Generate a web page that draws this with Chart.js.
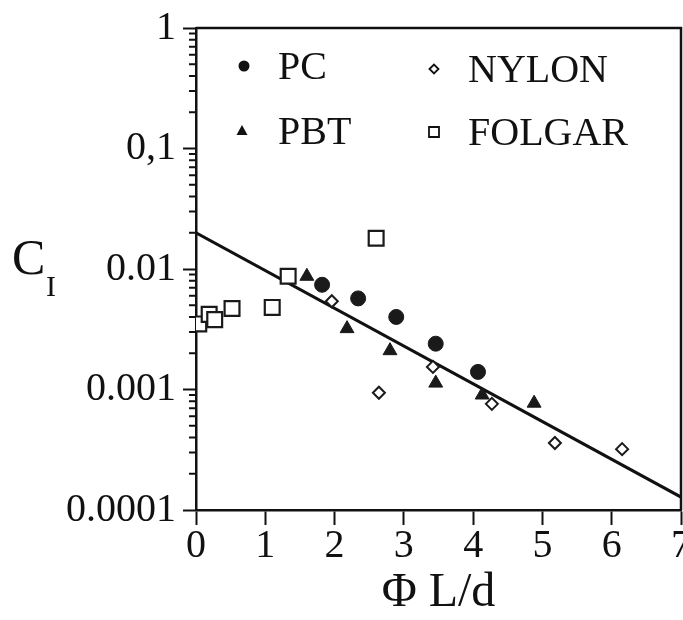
<!DOCTYPE html>
<html>
<head>
<meta charset="utf-8">
<script src="https://cdn.jsdelivr.net/npm/chart.js@4/dist/chart.umd.min.js"></script>
<style>
  html, body { margin: 0; padding: 0; background: #fff; }
  #wrap { width: 683px; height: 620px; }
</style>
</head>
<body>
<div id="wrap"><canvas id="chart" width="683" height="620"></canvas></div>
<script>
// values (x = Phi L/d, y = C_I)
const pcX = [1.82, 2.34, 2.89, 3.46, 4.07];
const pcY = [0.0074, 0.0057, 0.0040, 0.0024, 0.0014];
const pbtX = [1.60, 2.18, 2.80, 3.46, 4.13, 4.88];
const pbtY = [0.0087, 0.0032, 0.0021, 0.00113, 0.0009, 0.00077];
const nylonX = [1.96, 2.64, 3.42, 4.27, 5.18, 6.15];
const nylonY = [0.0054, 0.00094, 0.00154, 0.00076, 0.00036, 0.00032];
const folgarX = [0.04, 0.19, 0.27, 0.52, 1.10, 1.33, 2.60];
const folgarY = [0.0035, 0.0042, 0.0038, 0.0047, 0.0048, 0.0087, 0.018];
const fitX = [0, 7];
const fitY = [0.020, 0.000128];

const yTickValues = [0.0001, 0.001, 0.01, 0.1, 1];
const yTickLabels = ["0.0001", "0.001", "0.01", "0,1", "1"];

const SERIF = "'Liberation Serif', 'DejaVu Serif', serif";

function pts(xs, ys) {
  return xs.map((x, i) => ({ x: x, y: ys[i] }));
}

// box, minor log ticks, C_I title and the in-plot legend
const decor = {
  id: "decor",
  afterDraw(chart) {
    const ctx = chart.ctx;
    const a = chart.chartArea;
    const ys = chart.scales.y;
    ctx.save();
    ctx.strokeStyle = "#111";
    ctx.lineWidth = 2.5;
    ctx.beginPath();
    ctx.moveTo(a.left, a.top);
    ctx.lineTo(a.right, a.top);
    ctx.lineTo(a.right, a.bottom);
    ctx.stroke();

    // minor ticks 2..9 of each decade
    ctx.lineWidth = 2;
    ctx.beginPath();
    for (let d = -4; d < 0; d++) {
      for (let m = 2; m <= 9; m++) {
        const py = ys.getPixelForValue(m * Math.pow(10, d));
        ctx.moveTo(a.left - 7, py);
        ctx.lineTo(a.left, py);
      }
    }
    ctx.stroke();

    // y title: C with subscript I
    ctx.fillStyle = "#111";
    ctx.textBaseline = "alphabetic";
    ctx.textAlign = "left";
    ctx.font = "50px " + SERIF;
    ctx.fillText("C", 12, 274);
    ctx.font = "30px " + SERIF;
    ctx.fillText("I", 46, 296);

    // legend
    ctx.font = "40px " + SERIF;
    ctx.textBaseline = "middle";
    const rows = [
      { shape: "circle", x: 244, y: 66, label: "PC", tx: 278 },
      { shape: "diamond", x: 434, y: 69, label: "NYLON", tx: 468 },
      { shape: "triangle", x: 242, y: 131, label: "PBT", tx: 278 },
      { shape: "square", x: 434, y: 132, label: "FOLGAR", tx: 468 }
    ];
    rows.forEach((r) => {
      ctx.beginPath();
      ctx.lineWidth = 1.8;
      if (r.shape === "circle") {
        ctx.arc(r.x, r.y, 5.5, 0, Math.PI * 2);
        ctx.fill();
      } else if (r.shape === "triangle") {
        ctx.moveTo(r.x, r.y - 6);
        ctx.lineTo(r.x + 5.5, r.y + 4);
        ctx.lineTo(r.x - 5.5, r.y + 4);
        ctx.closePath();
        ctx.fill();
      } else if (r.shape === "diamond") {
        ctx.moveTo(r.x - 4.5, r.y);
        ctx.lineTo(r.x, r.y - 4.5);
        ctx.lineTo(r.x + 4.5, r.y);
        ctx.lineTo(r.x, r.y + 4.5);
        ctx.closePath();
        ctx.stroke();
      } else {
        ctx.rect(r.x - 5, r.y - 5, 10, 10);
        ctx.stroke();
      }
      ctx.fillText(r.label, r.tx, r.y + 2);
    });
    ctx.restore();
  }
};

const ctx = document.getElementById("chart").getContext("2d");
new Chart(ctx, {
  type: "scatter",
  data: {
    datasets: [
      {
        label: "PC",
        data: pts(pcX, pcY),
        pointStyle: "circle",
        pointRadius: 7.5,
        backgroundColor: "#1a1a1a",
        borderColor: "#1a1a1a",
        borderWidth: 1,
        order: 1
      },
      {
        label: "PBT",
        data: pts(pbtX, pbtY),
        pointStyle: "triangle",
        pointRadius: 8,
        backgroundColor: "#1a1a1a",
        borderColor: "#1a1a1a",
        borderWidth: 1,
        order: 1
      },
      {
        label: "NYLON",
        data: pts(nylonX, nylonY),
        pointStyle: "rectRot",
        pointRadius: 6,
        backgroundColor: "#fff",
        borderColor: "#1a1a1a",
        borderWidth: 2,
        order: 1
      },
      {
        label: "FOLGAR",
        data: pts(folgarX, folgarY),
        pointStyle: "rect",
        pointRadius: 10.5,
        backgroundColor: "#fff",
        borderColor: "#1a1a1a",
        borderWidth: 2.2,
        order: 1
      },
      {
        label: "fit",
        data: pts(fitX, fitY),
        showLine: true,
        pointRadius: 0,
        borderColor: "#111",
        borderWidth: 3,
        order: 5
      }
    ]
  },
  options: {
    responsive: false,
    animation: false,
    events: [],
    layout: { autoPadding: false, padding: { top: 28, right: 2, left: 0, bottom: 0 } },
    plugins: {
      legend: { display: false },
      tooltip: { enabled: false }
    },
    scales: {
      x: {
        type: "linear",
        min: 0,
        max: 7,
        afterFit: (s) => {
          s.height = 110;
          s.paddingLeft = 0;
          s.paddingRight = 0;
        },
        border: { display: true, color: "#111", width: 2.5 },
        grid: { drawOnChartArea: false, drawTicks: true, tickLength: 15, tickWidth: 2, tickColor: "#111" },
        ticks: {
          stepSize: 1,
          padding: 1,
          color: "#111",
          maxRotation: 0,
          font: { family: SERIF, size: 40, lineHeight: 1 }
        },
        title: {
          display: true,
          text: "Φ L/d",
          color: "#111",
          padding: { top: 0, bottom: 3 },
          font: { family: SERIF, size: 48, lineHeight: 1 }
        }
      },
      y: {
        type: "logarithmic",
        min: 0.0001,
        max: 1,
        afterFit: (s) => {
          s.width = 196;
          s.paddingTop = 0;
          s.paddingBottom = 0;
        },
        afterBuildTicks: (s) => { s.ticks = yTickValues.map((v) => ({ value: v })); },
        border: { display: true, color: "#111", width: 2.5 },
        grid: { drawOnChartArea: false, drawTicks: true, tickLength: 13, tickWidth: 2, tickColor: "#111" },
        ticks: {
          padding: 7,
          color: "#111",
          font: { family: SERIF, size: 40, lineHeight: 1 },
          callback: (v) => {
            const i = yTickValues.findIndex((t) => Math.abs(t - v) / t < 1e-6);
            return i >= 0 ? yTickLabels[i] : "";
          }
        }
      }
    }
  },
  plugins: [decor]
});
</script>
</body>
</html>
